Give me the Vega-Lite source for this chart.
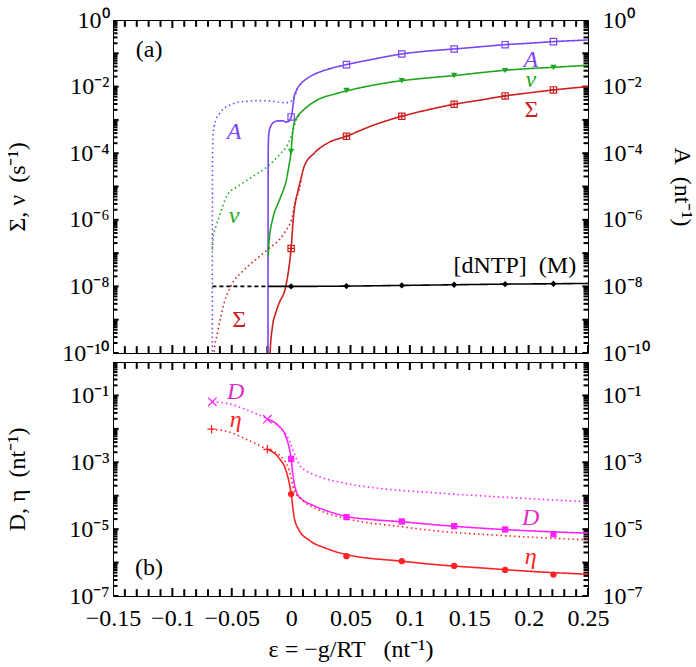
{
"$schema": "https://vega.github.io/schema/vega-lite/v6.json",
"padding": {"left": 4, "top": 7, "right": 0, "bottom": 0},
"config": {
  "font": "Liberation Serif",
  "view": {"stroke": "black", "strokeWidth": 1},
  "axis": {"domain": false, "ticks": false, "labelColor": "black", "titleColor": "black", "labelFontSize": 24, "titleFontSize": 24, "titleFontWeight": "normal", "grid": false, "labelFlush": false, "labelOverlap": false}
},
"datasets": {
  "xt": [
    {"v":-0.15,"k":"xM"},{"v":-0.14,"k":"xm"},{"v":-0.13,"k":"xm"},{"v":-0.12,"k":"xm"},{"v":-0.11,"k":"xm"},{"v":-0.1,"k":"xM"},{"v":-0.09,"k":"xm"},{"v":-0.08,"k":"xm"},{"v":-0.07,"k":"xm"},{"v":-0.06,"k":"xm"},{"v":-0.05,"k":"xM"},{"v":-0.04,"k":"xm"},{"v":-0.03,"k":"xm"},{"v":-0.02,"k":"xm"},{"v":-0.01,"k":"xm"},{"v":0,"k":"xM"},{"v":0.01,"k":"xm"},{"v":0.02,"k":"xm"},{"v":0.03,"k":"xm"},{"v":0.04,"k":"xm"},{"v":0.05,"k":"xM"},{"v":0.06,"k":"xm"},{"v":0.07,"k":"xm"},{"v":0.08,"k":"xm"},{"v":0.09,"k":"xm"},{"v":0.1,"k":"xM"},{"v":0.11,"k":"xm"},{"v":0.12,"k":"xm"},{"v":0.13,"k":"xm"},{"v":0.14,"k":"xm"},{"v":0.15,"k":"xM"},{"v":0.16,"k":"xm"},{"v":0.17,"k":"xm"},{"v":0.18,"k":"xm"},{"v":0.19,"k":"xm"},{"v":0.2,"k":"xM"},{"v":0.21,"k":"xm"},{"v":0.22,"k":"xm"},{"v":0.23,"k":"xm"},{"v":0.24,"k":"xm"},{"v":0.25,"k":"xM"}
  ],
  "ytT": [
    {"v":1e-10,"k":"yM"},{"v":2e-10,"k":"ym"},{"v":3e-10,"k":"ym"},{"v":4e-10,"k":"ym"},{"v":5e-10,"k":"ym"},{"v":6e-10,"k":"ym"},{"v":7e-10,"k":"ym"},{"v":8e-10,"k":"ym"},{"v":9e-10,"k":"ym"},
    {"v":1e-9,"k":"yM"},{"v":2e-9,"k":"ym"},{"v":3e-9,"k":"ym"},{"v":4e-9,"k":"ym"},{"v":5e-9,"k":"ym"},{"v":6e-9,"k":"ym"},{"v":7e-9,"k":"ym"},{"v":8e-9,"k":"ym"},{"v":9e-9,"k":"ym"},
    {"v":1e-8,"k":"yM"},{"v":2e-8,"k":"ym"},{"v":3e-8,"k":"ym"},{"v":4e-8,"k":"ym"},{"v":5e-8,"k":"ym"},{"v":6e-8,"k":"ym"},{"v":7e-8,"k":"ym"},{"v":8e-8,"k":"ym"},{"v":9e-8,"k":"ym"},
    {"v":1e-7,"k":"yM"},{"v":2e-7,"k":"ym"},{"v":3e-7,"k":"ym"},{"v":4e-7,"k":"ym"},{"v":5e-7,"k":"ym"},{"v":6e-7,"k":"ym"},{"v":7e-7,"k":"ym"},{"v":8e-7,"k":"ym"},{"v":9e-7,"k":"ym"},
    {"v":1e-6,"k":"yM"},{"v":2e-6,"k":"ym"},{"v":3e-6,"k":"ym"},{"v":4e-6,"k":"ym"},{"v":5e-6,"k":"ym"},{"v":6e-6,"k":"ym"},{"v":7e-6,"k":"ym"},{"v":8e-6,"k":"ym"},{"v":9e-6,"k":"ym"},
    {"v":1e-5,"k":"yM"},{"v":2e-5,"k":"ym"},{"v":3e-5,"k":"ym"},{"v":4e-5,"k":"ym"},{"v":5e-5,"k":"ym"},{"v":6e-5,"k":"ym"},{"v":7e-5,"k":"ym"},{"v":8e-5,"k":"ym"},{"v":9e-5,"k":"ym"},
    {"v":1e-4,"k":"yM"},{"v":2e-4,"k":"ym"},{"v":3e-4,"k":"ym"},{"v":4e-4,"k":"ym"},{"v":5e-4,"k":"ym"},{"v":6e-4,"k":"ym"},{"v":7e-4,"k":"ym"},{"v":8e-4,"k":"ym"},{"v":9e-4,"k":"ym"},
    {"v":1e-3,"k":"yM"},{"v":2e-3,"k":"ym"},{"v":3e-3,"k":"ym"},{"v":4e-3,"k":"ym"},{"v":5e-3,"k":"ym"},{"v":6e-3,"k":"ym"},{"v":7e-3,"k":"ym"},{"v":8e-3,"k":"ym"},{"v":9e-3,"k":"ym"},
    {"v":0.01,"k":"yM"},{"v":0.02,"k":"ym"},{"v":0.03,"k":"ym"},{"v":0.04,"k":"ym"},{"v":0.05,"k":"ym"},{"v":0.06,"k":"ym"},{"v":0.07,"k":"ym"},{"v":0.08,"k":"ym"},{"v":0.09,"k":"ym"},
    {"v":0.1,"k":"yM"},{"v":0.2,"k":"ym"},{"v":0.3,"k":"ym"},{"v":0.4,"k":"ym"},{"v":0.5,"k":"ym"},{"v":0.6,"k":"ym"},{"v":0.7,"k":"ym"},{"v":0.8,"k":"ym"},{"v":0.9,"k":"ym"},{"v":1,"k":"yM"}
  ],
  "ytB": [
    {"v":1e-7,"k":"yM"},{"v":2e-7,"k":"ym"},{"v":3e-7,"k":"ym"},{"v":4e-7,"k":"ym"},{"v":5e-7,"k":"ym"},{"v":6e-7,"k":"ym"},{"v":7e-7,"k":"ym"},{"v":8e-7,"k":"ym"},{"v":9e-7,"k":"ym"},
    {"v":1e-6,"k":"yM"},{"v":2e-6,"k":"ym"},{"v":3e-6,"k":"ym"},{"v":4e-6,"k":"ym"},{"v":5e-6,"k":"ym"},{"v":6e-6,"k":"ym"},{"v":7e-6,"k":"ym"},{"v":8e-6,"k":"ym"},{"v":9e-6,"k":"ym"},
    {"v":1e-5,"k":"yM"},{"v":2e-5,"k":"ym"},{"v":3e-5,"k":"ym"},{"v":4e-5,"k":"ym"},{"v":5e-5,"k":"ym"},{"v":6e-5,"k":"ym"},{"v":7e-5,"k":"ym"},{"v":8e-5,"k":"ym"},{"v":9e-5,"k":"ym"},
    {"v":1e-4,"k":"yM"},{"v":2e-4,"k":"ym"},{"v":3e-4,"k":"ym"},{"v":4e-4,"k":"ym"},{"v":5e-4,"k":"ym"},{"v":6e-4,"k":"ym"},{"v":7e-4,"k":"ym"},{"v":8e-4,"k":"ym"},{"v":9e-4,"k":"ym"},
    {"v":1e-3,"k":"yM"},{"v":2e-3,"k":"ym"},{"v":3e-3,"k":"ym"},{"v":4e-3,"k":"ym"},{"v":5e-3,"k":"ym"},{"v":6e-3,"k":"ym"},{"v":7e-3,"k":"ym"},{"v":8e-3,"k":"ym"},{"v":9e-3,"k":"ym"},
    {"v":0.01,"k":"yM"},{"v":0.02,"k":"ym"},{"v":0.03,"k":"ym"},{"v":0.04,"k":"ym"},{"v":0.05,"k":"ym"},{"v":0.06,"k":"ym"},{"v":0.07,"k":"ym"},{"v":0.08,"k":"ym"},{"v":0.09,"k":"ym"},
    {"v":0.1,"k":"yM"},{"v":0.2,"k":"ym"},{"v":0.3,"k":"ym"},{"v":0.4,"k":"ym"},{"v":0.5,"k":"ym"},{"v":0.6,"k":"ym"},{"v":0.7,"k":"ym"},{"v":0.8,"k":"ym"},{"v":0.9,"k":"ym"},{"v":1,"k":"yM"}
  ],
  "topLines": [
    {"s":"A","st":"solid","x":-0.0195,"y":3.16e-11},{"s":"A","st":"solid","x":-0.0194,"y":1e-6},{"s":"A","st":"solid","x":-0.0193,"y":1e-4},{"s":"A","st":"solid","x":-0.0191,"y":2.51e-4},{"s":"A","st":"solid","x":-0.0185,"y":4.47e-4},{"s":"A","st":"solid","x":-0.017,"y":6.61e-4},{"s":"A","st":"solid","x":-0.015,"y":8.32e-4},{"s":"A","st":"solid","x":-0.011,"y":9.33e-4},{"s":"A","st":"solid","x":-0.007,"y":9.33e-4},{"s":"A","st":"solid","x":-0.0045,"y":8.71e-4},{"s":"A","st":"solid","x":-0.0025,"y":8.91e-4},{"s":"A","st":"solid","x":0,"y":1.2e-3},{"s":"A","st":"solid","x":0.0015,"y":2.51e-3},{"s":"A","st":"solid","x":0.0025,"y":4.79e-3},{"s":"A","st":"solid","x":0.004,"y":7.08e-3},{"s":"A","st":"solid","x":0.0053,"y":8.91e-3},{"s":"A","st":"solid","x":0.008,"y":0.012},{"s":"A","st":"solid","x":0.0137,"y":0.0178},{"s":"A","st":"solid","x":0.025,"y":0.0282},{"s":"A","st":"solid","x":0.035,"y":0.0363},{"s":"A","st":"solid","x":0.0466,"y":0.0457},{"s":"A","st":"solid","x":0.07,"y":0.0676},{"s":"A","st":"solid","x":0.0932,"y":0.0955},{"s":"A","st":"solid","x":0.115,"y":0.117},{"s":"A","st":"solid","x":0.1373,"y":0.135},{"s":"A","st":"solid","x":0.16,"y":0.158},{"s":"A","st":"solid","x":0.1802,"y":0.182},{"s":"A","st":"solid","x":0.2,"y":0.2},{"s":"A","st":"solid","x":0.2209,"y":0.224},{"s":"A","st":"solid","x":0.25,"y":0.251},
    {"s":"A","st":"dotted","x":-0.0664,"y":3.16e-11},{"s":"A","st":"dotted","x":-0.0663,"y":1e-6},{"s":"A","st":"dotted","x":-0.0662,"y":1e-4},{"s":"A","st":"dotted","x":-0.0658,"y":3.16e-4},{"s":"A","st":"dotted","x":-0.0648,"y":6.31e-4},{"s":"A","st":"dotted","x":-0.0634,"y":1e-3},{"s":"A","st":"dotted","x":-0.06,"y":1.58e-3},{"s":"A","st":"dotted","x":-0.0564,"y":2.24e-3},{"s":"A","st":"dotted","x":-0.05,"y":2.95e-3},{"s":"A","st":"dotted","x":-0.045,"y":3.39e-3},{"s":"A","st":"dotted","x":-0.037,"y":3.63e-3},{"s":"A","st":"dotted","x":-0.028,"y":3.8e-3},{"s":"A","st":"dotted","x":-0.018,"y":3.72e-3},{"s":"A","st":"dotted","x":-0.0059,"y":3.31e-3},{"s":"A","st":"dotted","x":-0.002,"y":3.31e-3},{"s":"A","st":"dotted","x":0.001,"y":3.98e-3},{"s":"A","st":"dotted","x":0.004,"y":6.31e-3},{"s":"A","st":"dotted","x":0.0055,"y":9.12e-3},
    {"s":"nu","st":"solid","x":-0.0193,"y":7.94e-8},{"s":"nu","st":"solid","x":-0.0188,"y":1.78e-7},{"s":"nu","st":"solid","x":-0.018,"y":3.55e-7},{"s":"nu","st":"solid","x":-0.0157,"y":1e-6},{"s":"nu","st":"solid","x":-0.0143,"y":1.58e-6},{"s":"nu","st":"solid","x":-0.0115,"y":2.82e-6},{"s":"nu","st":"solid","x":-0.0087,"y":5.01e-6},{"s":"nu","st":"solid","x":-0.004,"y":1.58e-5},{"s":"nu","st":"solid","x":-0.0017,"y":4.47e-5},{"s":"nu","st":"solid","x":0,"y":1.17e-4},{"s":"nu","st":"solid","x":0.001,"y":3.16e-4},{"s":"nu","st":"solid","x":0.0025,"y":7.94e-4},{"s":"nu","st":"solid","x":0.0053,"y":1.26e-3},{"s":"nu","st":"solid","x":0.009,"y":1.78e-3},{"s":"nu","st":"solid","x":0.0137,"y":2.51e-3},{"s":"nu","st":"solid","x":0.025,"y":4.47e-3},{"s":"nu","st":"solid","x":0.035,"y":5.75e-3},{"s":"nu","st":"solid","x":0.0466,"y":7.41e-3},{"s":"nu","st":"solid","x":0.07,"y":0.0112},{"s":"nu","st":"solid","x":0.0932,"y":0.0151},{"s":"nu","st":"solid","x":0.115,"y":0.0182},{"s":"nu","st":"solid","x":0.1373,"y":0.0214},{"s":"nu","st":"solid","x":0.16,"y":0.0263},{"s":"nu","st":"solid","x":0.1802,"y":0.0309},{"s":"nu","st":"solid","x":0.2,"y":0.0347},{"s":"nu","st":"solid","x":0.2209,"y":0.038},{"s":"nu","st":"solid","x":0.25,"y":0.0437},
    {"s":"nu","st":"dotted","x":-0.0663,"y":1.26e-7},{"s":"nu","st":"dotted","x":-0.0655,"y":3.16e-7},{"s":"nu","st":"dotted","x":-0.0634,"y":6.31e-7},{"s":"nu","st":"dotted","x":-0.0605,"y":1.26e-6},{"s":"nu","st":"dotted","x":-0.0578,"y":2.51e-6},{"s":"nu","st":"dotted","x":-0.0536,"y":5.62e-6},{"s":"nu","st":"dotted","x":-0.045,"y":1e-5},{"s":"nu","st":"dotted","x":-0.0368,"y":1.58e-5},{"s":"nu","st":"dotted","x":-0.028,"y":2.51e-5},{"s":"nu","st":"dotted","x":-0.02,"y":3.98e-5},{"s":"nu","st":"dotted","x":-0.0087,"y":1e-4},{"s":"nu","st":"dotted","x":-0.003,"y":1.78e-4},{"s":"nu","st":"dotted","x":0,"y":3.16e-4},{"s":"nu","st":"dotted","x":0.0025,"y":6.31e-4},{"s":"nu","st":"dotted","x":0.005,"y":1.12e-3},{"s":"nu","st":"dotted","x":0.007,"y":1.41e-3},
    {"s":"Sigma","st":"solid","x":-0.0178,"y":3.16e-11},{"s":"Sigma","st":"solid","x":-0.0177,"y":1e-10},{"s":"Sigma","st":"solid","x":-0.0157,"y":6.31e-10},{"s":"Sigma","st":"solid","x":-0.013,"y":1.58e-9},{"s":"Sigma","st":"solid","x":-0.0101,"y":3.16e-9},{"s":"Sigma","st":"solid","x":-0.0045,"y":1e-8},{"s":"Sigma","st":"solid","x":-0.0017,"y":3.98e-8},{"s":"Sigma","st":"solid","x":0,"y":1.38e-7},{"s":"Sigma","st":"solid","x":0.002,"y":1.26e-6},{"s":"Sigma","st":"solid","x":0.004,"y":3.98e-6},{"s":"Sigma","st":"solid","x":0.0053,"y":6.31e-6},{"s":"Sigma","st":"solid","x":0.008,"y":1.58e-5},{"s":"Sigma","st":"solid","x":0.011,"y":3.98e-5},{"s":"Sigma","st":"solid","x":0.0194,"y":1e-4},{"s":"Sigma","st":"solid","x":0.0306,"y":2e-4},{"s":"Sigma","st":"solid","x":0.0466,"y":3.24e-4},{"s":"Sigma","st":"solid","x":0.07,"y":7.08e-4},{"s":"Sigma","st":"solid","x":0.0932,"y":1.29e-3},{"s":"Sigma","st":"solid","x":0.115,"y":2e-3},{"s":"Sigma","st":"solid","x":0.1373,"y":2.95e-3},{"s":"Sigma","st":"solid","x":0.16,"y":3.98e-3},{"s":"Sigma","st":"solid","x":0.1802,"y":5.25e-3},{"s":"Sigma","st":"solid","x":0.2,"y":6.46e-3},{"s":"Sigma","st":"solid","x":0.2209,"y":7.94e-3},{"s":"Sigma","st":"solid","x":0.25,"y":0.01},
    {"s":"Sigma","st":"dotted","x":-0.0655,"y":3.16e-11},{"s":"Sigma","st":"dotted","x":-0.065,"y":1e-10},{"s":"Sigma","st":"dotted","x":-0.062,"y":3.98e-10},{"s":"Sigma","st":"dotted","x":-0.0564,"y":3.16e-9},{"s":"Sigma","st":"dotted","x":-0.0508,"y":1e-8},{"s":"Sigma","st":"dotted","x":-0.0396,"y":3.16e-8},{"s":"Sigma","st":"dotted","x":-0.03,"y":6.31e-8},{"s":"Sigma","st":"dotted","x":-0.02,"y":1.26e-7},{"s":"Sigma","st":"dotted","x":-0.0059,"y":3.98e-7},{"s":"Sigma","st":"dotted","x":0.001,"y":1.26e-6},{"s":"Sigma","st":"dotted","x":0.0025,"y":2.51e-6},{"s":"Sigma","st":"dotted","x":0.004,"y":3.98e-6},{"s":"Sigma","st":"dotted","x":0.0067,"y":7.94e-6},{"s":"Sigma","st":"dotted","x":0.009,"y":1.78e-5},
    {"s":"dNTP","st":"dashed","x":-0.0663,"y":1e-8},{"s":"dNTP","st":"dashed","x":-0.0194,"y":1e-8},
    {"s":"dNTP","st":"solid","x":-0.0194,"y":1e-8},{"s":"dNTP","st":"solid","x":0,"y":1e-8},{"s":"dNTP","st":"solid","x":0.0466,"y":1.02e-8},{"s":"dNTP","st":"solid","x":0.0932,"y":1.07e-8},{"s":"dNTP","st":"solid","x":0.1373,"y":1.12e-8},{"s":"dNTP","st":"solid","x":0.1802,"y":1.17e-8},{"s":"dNTP","st":"solid","x":0.2209,"y":1.2e-8},{"s":"dNTP","st":"solid","x":0.25,"y":1.23e-8}
  ],
  "topOpen": [
    {"s":"A","m":"sq","x":0,"y":1.23e-3},{"s":"A","m":"sq","x":0.0466,"y":0.0457},{"s":"A","m":"sq","x":0.0932,"y":0.0955},{"s":"A","m":"sq","x":0.1373,"y":0.135},{"s":"A","m":"sq","x":0.1802,"y":0.182},{"s":"A","m":"sq","x":0.2209,"y":0.224},
    {"s":"Sigma","m":"box","x":0,"y":1.38e-7},{"s":"Sigma","m":"box","x":0.0466,"y":3.24e-4},{"s":"Sigma","m":"box","x":0.0932,"y":1.29e-3},{"s":"Sigma","m":"box","x":0.1373,"y":2.95e-3},{"s":"Sigma","m":"box","x":0.1802,"y":5.25e-3},{"s":"Sigma","m":"box","x":0.2209,"y":7.94e-3}
  ],
  "topFilled": [
    {"s":"nu","m":"tri","x":0,"y":1.12e-4},{"s":"nu","m":"tri","x":0.0466,"y":7.59e-3},{"s":"nu","m":"tri","x":0.0932,"y":0.0151},{"s":"nu","m":"tri","x":0.1373,"y":0.0214},{"s":"nu","m":"tri","x":0.1802,"y":0.0302},{"s":"nu","m":"tri","x":0.2209,"y":0.0372},
    {"s":"dNTP","m":"dia","x":0,"y":1e-8},{"s":"dNTP","m":"dia","x":0.0466,"y":1.02e-8},{"s":"dNTP","m":"dia","x":0.0932,"y":1.07e-8},{"s":"dNTP","m":"dia","x":0.1373,"y":1.12e-8},{"s":"dNTP","m":"dia","x":0.1802,"y":1.17e-8},{"s":"dNTP","m":"dia","x":0.2209,"y":1.2e-8}
  ],
  "topTextI": [
    {"t":"A","s":"A","x":-0.048,"y":4.47e-4},{"t":"ν","s":"nu","x":-0.048,"y":1.26e-6},{"t":"A","s":"A","x":0.2018,"y":0.0631},{"t":"ν","s":"nu","x":0.2018,"y":0.0158}
  ],
  "topTextU": [
    {"t":"Σ","s":"Sigma","x":-0.0438,"y":1e-9},{"t":"Σ","s":"Sigma","x":0.2024,"y":2e-3},{"t":"[dNTP]\u00a0\u00a0(M)","s":"dNTP","x":0.1884,"y":3.98e-8},{"t":"(a)","s":"dNTP","x":-0.1196,"y":0.13}
  ],
  "botLines": [
    {"s":"D","st":"dotted","x":-0.0663,"y":0.0646},{"s":"D","st":"dotted","x":-0.0536,"y":0.0575},{"s":"D","st":"dotted","x":-0.0368,"y":0.0363},{"s":"D","st":"dotted","x":-0.02,"y":0.0195},{"s":"D","st":"dotted","x":-0.0087,"y":0.0105},{"s":"D","st":"dotted","x":-0.0017,"y":4.68e-3},{"s":"D","st":"dotted","x":0.0025,"y":1.86e-3},{"s":"D","st":"dotted","x":0.008,"y":7.41e-4},{"s":"D","st":"dotted","x":0.0124,"y":5.62e-4},{"s":"D","st":"dotted","x":0.0236,"y":3.72e-4},{"s":"D","st":"dotted","x":0.046,"y":2.34e-4},{"s":"D","st":"dotted","x":0.074,"y":1.66e-4},{"s":"D","st":"dotted","x":0.116,"y":1.26e-4},{"s":"D","st":"dotted","x":0.172,"y":9.33e-5},{"s":"D","st":"dotted","x":0.25,"y":6.61e-5},
    {"s":"D","st":"solid","x":-0.02,"y":0.0195},{"s":"D","st":"solid","x":-0.0115,"y":0.0132},{"s":"D","st":"solid","x":-0.0045,"y":5.89e-3},{"s":"D","st":"solid","x":0,"y":1.29e-3},{"s":"D","st":"solid","x":0.002,"y":3.16e-4},{"s":"D","st":"solid","x":0.0053,"y":1.12e-4},{"s":"D","st":"solid","x":0.0095,"y":7.59e-5},{"s":"D","st":"solid","x":0.018,"y":5.25e-5},{"s":"D","st":"solid","x":0.03,"y":3.55e-5},{"s":"D","st":"solid","x":0.0466,"y":2.4e-5},{"s":"D","st":"solid","x":0.07,"y":1.91e-5},{"s":"D","st":"solid","x":0.0932,"y":1.66e-5},{"s":"D","st":"solid","x":0.1246,"y":1.32e-5},{"s":"D","st":"solid","x":0.16,"y":1.07e-5},{"s":"D","st":"solid","x":0.2,"y":8.91e-6},{"s":"D","st":"solid","x":0.25,"y":7.59e-6},
    {"s":"eta","st":"dotted","x":-0.067,"y":9.77e-3},{"s":"eta","st":"dotted","x":-0.0536,"y":8.32e-3},{"s":"eta","st":"dotted","x":-0.0368,"y":4.68e-3},{"s":"eta","st":"dotted","x":-0.02,"y":2.45e-3},{"s":"eta","st":"dotted","x":-0.0101,"y":1.66e-3},{"s":"eta","st":"dotted","x":-0.0017,"y":5.89e-4},{"s":"eta","st":"dotted","x":0.0025,"y":1.48e-4},{"s":"eta","st":"dotted","x":0.0095,"y":7.41e-5},{"s":"eta","st":"dotted","x":0.0236,"y":3.72e-5},{"s":"eta","st":"dotted","x":0.046,"y":2.09e-5},{"s":"eta","st":"dotted","x":0.0937,"y":1.17e-5},{"s":"eta","st":"dotted","x":0.1246,"y":8.71e-6},{"s":"eta","st":"dotted","x":0.172,"y":6.61e-6},{"s":"eta","st":"dotted","x":0.25,"y":4.79e-6},
    {"s":"eta","st":"solid","x":-0.02,"y":2.45e-3},{"s":"eta","st":"solid","x":-0.0101,"y":1.32e-3},{"s":"eta","st":"solid","x":-0.0045,"y":5.89e-4},{"s":"eta","st":"solid","x":0,"y":1.17e-4},{"s":"eta","st":"solid","x":0.0025,"y":2.34e-5},{"s":"eta","st":"solid","x":0.0067,"y":9.33e-6},{"s":"eta","st":"solid","x":0.0152,"y":4.68e-6},{"s":"eta","st":"solid","x":0.0292,"y":2.69e-6},{"s":"eta","st":"solid","x":0.0466,"y":1.74e-6},{"s":"eta","st":"solid","x":0.0932,"y":1.1e-6},{"s":"eta","st":"solid","x":0.1246,"y":8.51e-7},{"s":"eta","st":"solid","x":0.16,"y":6.92e-7},{"s":"eta","st":"solid","x":0.2,"y":5.5e-7},{"s":"eta","st":"solid","x":0.25,"y":4.47e-7}
  ],
  "botOpen": [
    {"s":"D","m":"x","x":-0.0663,"y":0.0646},{"s":"D","m":"x","x":-0.02,"y":0.0195},
    {"s":"eta","m":"plus","x":-0.067,"y":9.77e-3},{"s":"eta","m":"plus","x":-0.02,"y":2.45e-3}
  ],
  "botFilled": [
    {"s":"D","m":"sq","x":0,"y":1.26e-3},{"s":"D","m":"sq","x":0.0466,"y":2.29e-5},{"s":"D","m":"sq","x":0.0932,"y":1.7e-5},{"s":"D","m":"sq","x":0.1373,"y":1.23e-5},{"s":"D","m":"sq","x":0.1802,"y":9.77e-6},{"s":"D","m":"sq","x":0.2209,"y":7.08e-6},
    {"s":"eta","m":"circ","x":0,"y":1.12e-4},{"s":"eta","m":"circ","x":0.0466,"y":1.55e-6},{"s":"eta","m":"circ","x":0.0932,"y":1.1e-6},{"s":"eta","m":"circ","x":0.1373,"y":7.94e-7},{"s":"eta","m":"circ","x":0.1802,"y":6.03e-7},{"s":"eta","m":"circ","x":0.2209,"y":4.37e-7}
  ],
  "botTextI": [
    {"t":"D","s":"Dlab","x":-0.0466,"y":0.129},{"t":"η","s":"eta","x":-0.0466,"y":0.0182},{"t":"D","s":"Dlab","x":0.2018,"y":2.09e-5},{"t":"η","s":"eta","x":0.2018,"y":1.51e-6}
  ],
  "botTextU": [
    {"t":"(b)","s":"dNTP","x":-0.1196,"y":6.76e-7}
  ]
},
"vconcat": [
  {
    "width": 475, "height": 333,
    "resolve": {"axis": {"x": "independent", "y": "independent"}},
    "layer": [
      {
        "data": {"name": "xt"},
        "mark": {"type": "tick", "orient": "vertical", "clip": true, "thickness": 2, "color": "#000000", "opacity": 1},
        "encoding": {
          "x": {"field": "v", "type": "quantitative", "scale": {"domain": [-0.15, 0.25], "nice": false, "zero": false}, "axis": {"orient": "bottom", "labels": false, "title": null, "values": [0]}},
          "y": {"datum": 1e-10, "type": "quantitative", "scale": {"type": "log", "domain": [1e-10, 1], "nice": false},
                "axis": {"orient": "left", "values": [1e-10, 1e-8, 1e-6, 1e-4, 0.01, 1],
                         "labelExpr": "datum.value == 1 ? '10⁰' : datum.value == 0.01 ? '10⁻²' : datum.value == 0.0001 ? '10⁻⁴' : datum.value == 0.000001 ? '10⁻⁶' : datum.value == 0.00000001 ? '10⁻⁸' : datum.value == 0.0000000001 ? '10⁻¹⁰' : ''",
                         "labelPadding": 4, "title": "Σ, ν\u00a0\u00a0(s⁻¹)", "minExtent": 78, "maxExtent": 78, "titlePadding": 6}},
          "size": {"field": "k", "type": "ordinal", "scale": {"domain": ["xM","xm","yM","ym"], "range": [16, 9, 20, 11]}, "legend": null}
        }
      },
      {
        "data": {"name": "xt"},
        "mark": {"type": "tick", "orient": "vertical", "clip": true, "thickness": 2, "color": "#000000", "opacity": 1},
        "encoding": {
          "x": {"field": "v", "type": "quantitative", "scale": {"domain": [-0.15, 0.25], "nice": false, "zero": false}, "axis": {"orient": "top", "labels": false, "title": null, "values": [0]}},
          "y": {"datum": 1, "type": "quantitative", "scale": {"type": "log", "domain": [1e-10, 1], "nice": false},
                "axis": {"orient": "right", "values": [1e-10, 1e-8, 1e-6, 1e-4, 0.01, 1],
                         "labelExpr": "datum.value == 1 ? '10⁰' : datum.value == 0.01 ? '10⁻²' : datum.value == 0.0001 ? '10⁻⁴' : datum.value == 0.000001 ? '10⁻⁶' : datum.value == 0.00000001 ? '10⁻⁸' : datum.value == 0.0000000001 ? '10⁻¹⁰' : ''",
                         "labelPadding": 14, "title": "A\u00a0\u00a0(nt⁻¹)", "minExtent": 75, "maxExtent": 75, "titlePadding": 6}},
          "size": {"field": "k", "type": "ordinal", "scale": {"domain": ["xM","xm","yM","ym"], "range": [16, 9, 20, 11]}, "legend": null}
        }
      },
      {
        "data": {"name": "ytT"},
        "mark": {"type": "tick", "orient": "horizontal", "clip": true, "thickness": 2, "color": "#000000", "opacity": 1},
        "encoding": {
          "x": {"datum": -0.15, "type": "quantitative", "scale": {"domain": [-0.15, 0.25], "nice": false, "zero": false}, "axis": null},
          "y": {"field": "v", "type": "quantitative", "scale": {"type": "log", "domain": [1e-10, 1], "nice": false}, "axis": null},
          "size": {"field": "k", "type": "ordinal", "scale": {"domain": ["xM","xm","yM","ym"], "range": [16, 9, 20, 11]}, "legend": null}
        }
      },
      {
        "data": {"name": "ytT"},
        "mark": {"type": "tick", "orient": "horizontal", "clip": true, "thickness": 2, "color": "#000000", "opacity": 1},
        "encoding": {
          "x": {"datum": 0.25, "type": "quantitative", "scale": {"domain": [-0.15, 0.25], "nice": false, "zero": false}, "axis": null},
          "y": {"field": "v", "type": "quantitative", "scale": {"type": "log", "domain": [1e-10, 1], "nice": false}, "axis": null},
          "size": {"field": "k", "type": "ordinal", "scale": {"domain": ["xM","xm","yM","ym"], "range": [16, 9, 20, 11]}, "legend": null}
        }
      },
      {
        "data": {"name": "topLines"},
        "mark": {"type": "line", "clip": true, "strokeWidth": 1.6, "interpolate": "monotone"},
        "encoding": {
          "x": {"field": "x", "type": "quantitative", "scale": {"domain": [-0.15, 0.25], "nice": false, "zero": false}, "axis": null},
          "y": {"field": "y", "type": "quantitative", "scale": {"type": "log", "domain": [1e-10, 1], "nice": false}, "axis": null},
          "color": {"field": "s", "type": "nominal", "scale": {"domain": ["A","nu","Sigma","dNTP","D","eta","Dlab"], "range": ["#7b45f5","#1fa51f","#cc2020","#000000","#ff22ff","#ff2222","#e02cc0"]}, "legend": null},
          "strokeDash": {"field": "st", "type": "nominal", "scale": {"domain": ["solid","dotted","dashed"], "range": [[1,0],[1.5,3],[4,3]]}, "legend": null}
        }
      },
      {
        "data": {"name": "topOpen"},
        "mark": {"type": "point", "filled": false, "size": 40, "strokeWidth": 1.2, "opacity": 1},
        "encoding": {
          "x": {"field": "x", "type": "quantitative", "scale": {"domain": [-0.15, 0.25], "nice": false, "zero": false}, "axis": null},
          "y": {"field": "y", "type": "quantitative", "scale": {"type": "log", "domain": [1e-10, 1], "nice": false}, "axis": null},
          "color": {"field": "s", "type": "nominal", "scale": {"domain": ["A","nu","Sigma","dNTP","D","eta","Dlab"], "range": ["#7b45f5","#1fa51f","#cc2020","#000000","#ff22ff","#ff2222","#e02cc0"]}, "legend": null},
          "shape": {"field": "m", "type": "nominal", "scale": {"domain": ["sq","box","tri","dia","circ","x","plus"], "range": ["square","M-1,-1H1V1H-1ZM0,-1V1M-1,0H1","triangle-down","diamond","circle","M-1,-1L1,1M-1,1L1,-1","M-1,0H1M0,-1V1"]}, "legend": null}
        }
      },
      {
        "data": {"name": "topFilled"},
        "mark": {"type": "point", "filled": true, "size": 40, "opacity": 1},
        "encoding": {
          "x": {"field": "x", "type": "quantitative", "scale": {"domain": [-0.15, 0.25], "nice": false, "zero": false}, "axis": null},
          "y": {"field": "y", "type": "quantitative", "scale": {"type": "log", "domain": [1e-10, 1], "nice": false}, "axis": null},
          "color": {"field": "s", "type": "nominal", "scale": {"domain": ["A","nu","Sigma","dNTP","D","eta","Dlab"], "range": ["#7b45f5","#1fa51f","#cc2020","#000000","#ff22ff","#ff2222","#e02cc0"]}, "legend": null},
          "shape": {"field": "m", "type": "nominal", "scale": {"domain": ["sq","box","tri","dia","circ","x","plus"], "range": ["square","M-1,-1H1V1H-1ZM0,-1V1M-1,0H1","triangle-down","diamond","circle","M-1,-1L1,1M-1,1L1,-1","M-1,0H1M0,-1V1"]}, "legend": null}
        }
      },
      {
        "data": {"name": "topTextI"},
        "mark": {"type": "text", "fontSize": 24, "fontStyle": "italic", "align": "center", "baseline": "middle"},
        "encoding": {
          "x": {"field": "x", "type": "quantitative", "scale": {"domain": [-0.15, 0.25], "nice": false, "zero": false}, "axis": null},
          "y": {"field": "y", "type": "quantitative", "scale": {"type": "log", "domain": [1e-10, 1], "nice": false}, "axis": null},
          "text": {"field": "t"},
          "color": {"field": "s", "type": "nominal", "scale": {"domain": ["A","nu","Sigma","dNTP","D","eta","Dlab"], "range": ["#7b45f5","#1fa51f","#cc2020","#000000","#ff22ff","#ff2222","#e02cc0"]}, "legend": null}
        }
      },
      {
        "data": {"name": "topTextU"},
        "mark": {"type": "text", "fontSize": 24, "align": "center", "baseline": "middle"},
        "encoding": {
          "x": {"field": "x", "type": "quantitative", "scale": {"domain": [-0.15, 0.25], "nice": false, "zero": false}, "axis": null},
          "y": {"field": "y", "type": "quantitative", "scale": {"type": "log", "domain": [1e-10, 1], "nice": false}, "axis": null},
          "text": {"field": "t"},
          "color": {"field": "s", "type": "nominal", "scale": {"domain": ["A","nu","Sigma","dNTP","D","eta","Dlab"], "range": ["#7b45f5","#1fa51f","#cc2020","#000000","#ff22ff","#ff2222","#e02cc0"]}, "legend": null}
        }
      }
    ]
  },
  {
    "width": 475, "height": 234,
    "resolve": {"axis": {"x": "independent", "y": "independent"}},
    "layer": [
      {
        "data": {"name": "xt"},
        "mark": {"type": "tick", "orient": "vertical", "clip": true, "thickness": 2, "color": "#000000", "opacity": 1},
        "encoding": {
          "x": {"field": "v", "type": "quantitative", "scale": {"domain": [-0.15, 0.25], "nice": false, "zero": false},
                "axis": {"orient": "bottom", "values": [-0.15,-0.1,-0.05,0,0.05,0.1,0.15,0.2,0.25],
                         "labelExpr": "format(datum.value, '~g')",
                         "labelPadding": 10, "title": "ε = −g/RT\u00a0\u00a0\u00a0(nt⁻¹)", "titlePadding": 7}},
          "y": {"datum": 1e-7, "type": "quantitative", "scale": {"type": "log", "domain": [1e-7, 1], "nice": false},
                "axis": {"orient": "left", "values": [1e-7, 1e-5, 1e-3, 0.1],
                         "labelExpr": "datum.value == 0.1 ? '10⁻¹' : datum.value == 0.001 ? '10⁻³' : datum.value == 0.00001 ? '10⁻⁵' : datum.value == 0.0000001 ? '10⁻⁷' : ''",
                         "labelPadding": 4, "title": "D, η\u00a0\u00a0(nt⁻¹)", "minExtent": 78, "maxExtent": 78, "titlePadding": 6}},
          "size": {"field": "k", "type": "ordinal", "scale": {"domain": ["xM","xm","yM","ym"], "range": [16, 9, 20, 11]}, "legend": null}
        }
      },
      {
        "data": {"name": "xt"},
        "mark": {"type": "tick", "orient": "vertical", "clip": true, "thickness": 2, "color": "#000000", "opacity": 1},
        "encoding": {
          "x": {"field": "v", "type": "quantitative", "scale": {"domain": [-0.15, 0.25], "nice": false, "zero": false}, "axis": {"orient": "top", "labels": false, "title": null, "values": [0]}},
          "y": {"datum": 1, "type": "quantitative", "scale": {"type": "log", "domain": [1e-7, 1], "nice": false},
                "axis": {"orient": "right", "values": [1e-7, 1e-5, 1e-3, 0.1],
                         "labelExpr": "datum.value == 0.1 ? '10⁻¹' : datum.value == 0.001 ? '10⁻³' : datum.value == 0.00001 ? '10⁻⁵' : datum.value == 0.0000001 ? '10⁻⁷' : ''",
                         "labelPadding": 14, "title": null, "minExtent": 75, "maxExtent": 75}},
          "size": {"field": "k", "type": "ordinal", "scale": {"domain": ["xM","xm","yM","ym"], "range": [16, 9, 20, 11]}, "legend": null}
        }
      },
      {
        "data": {"name": "ytB"},
        "mark": {"type": "tick", "orient": "horizontal", "clip": true, "thickness": 2, "color": "#000000", "opacity": 1},
        "encoding": {
          "x": {"datum": -0.15, "type": "quantitative", "scale": {"domain": [-0.15, 0.25], "nice": false, "zero": false}, "axis": null},
          "y": {"field": "v", "type": "quantitative", "scale": {"type": "log", "domain": [1e-7, 1], "nice": false}, "axis": null},
          "size": {"field": "k", "type": "ordinal", "scale": {"domain": ["xM","xm","yM","ym"], "range": [16, 9, 20, 11]}, "legend": null}
        }
      },
      {
        "data": {"name": "ytB"},
        "mark": {"type": "tick", "orient": "horizontal", "clip": true, "thickness": 2, "color": "#000000", "opacity": 1},
        "encoding": {
          "x": {"datum": 0.25, "type": "quantitative", "scale": {"domain": [-0.15, 0.25], "nice": false, "zero": false}, "axis": null},
          "y": {"field": "v", "type": "quantitative", "scale": {"type": "log", "domain": [1e-7, 1], "nice": false}, "axis": null},
          "size": {"field": "k", "type": "ordinal", "scale": {"domain": ["xM","xm","yM","ym"], "range": [16, 9, 20, 11]}, "legend": null}
        }
      },
      {
        "data": {"name": "botLines"},
        "mark": {"type": "line", "clip": true, "strokeWidth": 1.6, "interpolate": "monotone"},
        "encoding": {
          "x": {"field": "x", "type": "quantitative", "scale": {"domain": [-0.15, 0.25], "nice": false, "zero": false}, "axis": null},
          "y": {"field": "y", "type": "quantitative", "scale": {"type": "log", "domain": [1e-7, 1], "nice": false}, "axis": null},
          "color": {"field": "s", "type": "nominal", "scale": {"domain": ["A","nu","Sigma","dNTP","D","eta","Dlab"], "range": ["#7b45f5","#1fa51f","#cc2020","#000000","#ff22ff","#ff2222","#e02cc0"]}, "legend": null},
          "strokeDash": {"field": "st", "type": "nominal", "scale": {"domain": ["solid","dotted","dashed"], "range": [[1,0],[1.5,3],[4,3]]}, "legend": null}
        }
      },
      {
        "data": {"name": "botOpen"},
        "mark": {"type": "point", "filled": false, "size": 70, "strokeWidth": 1.3, "opacity": 1},
        "encoding": {
          "x": {"field": "x", "type": "quantitative", "scale": {"domain": [-0.15, 0.25], "nice": false, "zero": false}, "axis": null},
          "y": {"field": "y", "type": "quantitative", "scale": {"type": "log", "domain": [1e-7, 1], "nice": false}, "axis": null},
          "color": {"field": "s", "type": "nominal", "scale": {"domain": ["A","nu","Sigma","dNTP","D","eta","Dlab"], "range": ["#7b45f5","#1fa51f","#cc2020","#000000","#ff22ff","#ff2222","#e02cc0"]}, "legend": null},
          "shape": {"field": "m", "type": "nominal", "scale": {"domain": ["sq","box","tri","dia","circ","x","plus"], "range": ["square","M-1,-1H1V1H-1ZM0,-1V1M-1,0H1","triangle-down","diamond","circle","M-1,-1L1,1M-1,1L1,-1","M-1,0H1M0,-1V1"]}, "legend": null}
        }
      },
      {
        "data": {"name": "botFilled"},
        "mark": {"type": "point", "filled": true, "size": 40, "opacity": 1},
        "encoding": {
          "x": {"field": "x", "type": "quantitative", "scale": {"domain": [-0.15, 0.25], "nice": false, "zero": false}, "axis": null},
          "y": {"field": "y", "type": "quantitative", "scale": {"type": "log", "domain": [1e-7, 1], "nice": false}, "axis": null},
          "color": {"field": "s", "type": "nominal", "scale": {"domain": ["A","nu","Sigma","dNTP","D","eta","Dlab"], "range": ["#7b45f5","#1fa51f","#cc2020","#000000","#ff22ff","#ff2222","#e02cc0"]}, "legend": null},
          "shape": {"field": "m", "type": "nominal", "scale": {"domain": ["sq","box","tri","dia","circ","x","plus"], "range": ["square","M-1,-1H1V1H-1ZM0,-1V1M-1,0H1","triangle-down","diamond","circle","M-1,-1L1,1M-1,1L1,-1","M-1,0H1M0,-1V1"]}, "legend": null}
        }
      },
      {
        "data": {"name": "botTextI"},
        "mark": {"type": "text", "fontSize": 24, "fontStyle": "italic", "align": "center", "baseline": "middle"},
        "encoding": {
          "x": {"field": "x", "type": "quantitative", "scale": {"domain": [-0.15, 0.25], "nice": false, "zero": false}, "axis": null},
          "y": {"field": "y", "type": "quantitative", "scale": {"type": "log", "domain": [1e-7, 1], "nice": false}, "axis": null},
          "text": {"field": "t"},
          "color": {"field": "s", "type": "nominal", "scale": {"domain": ["A","nu","Sigma","dNTP","D","eta","Dlab"], "range": ["#7b45f5","#1fa51f","#cc2020","#000000","#ff22ff","#ff2222","#e02cc0"]}, "legend": null}
        }
      },
      {
        "data": {"name": "botTextU"},
        "mark": {"type": "text", "fontSize": 24, "align": "center", "baseline": "middle"},
        "encoding": {
          "x": {"field": "x", "type": "quantitative", "scale": {"domain": [-0.15, 0.25], "nice": false, "zero": false}, "axis": null},
          "y": {"field": "y", "type": "quantitative", "scale": {"type": "log", "domain": [1e-7, 1], "nice": false}, "axis": null},
          "text": {"field": "t"},
          "color": {"field": "s", "type": "nominal", "scale": {"domain": ["A","nu","Sigma","dNTP","D","eta","Dlab"], "range": ["#7b45f5","#1fa51f","#cc2020","#000000","#ff22ff","#ff2222","#e02cc0"]}, "legend": null}
        }
      }
    ]
  }
],
"spacing": 9,
"bounds": "flush"
}
